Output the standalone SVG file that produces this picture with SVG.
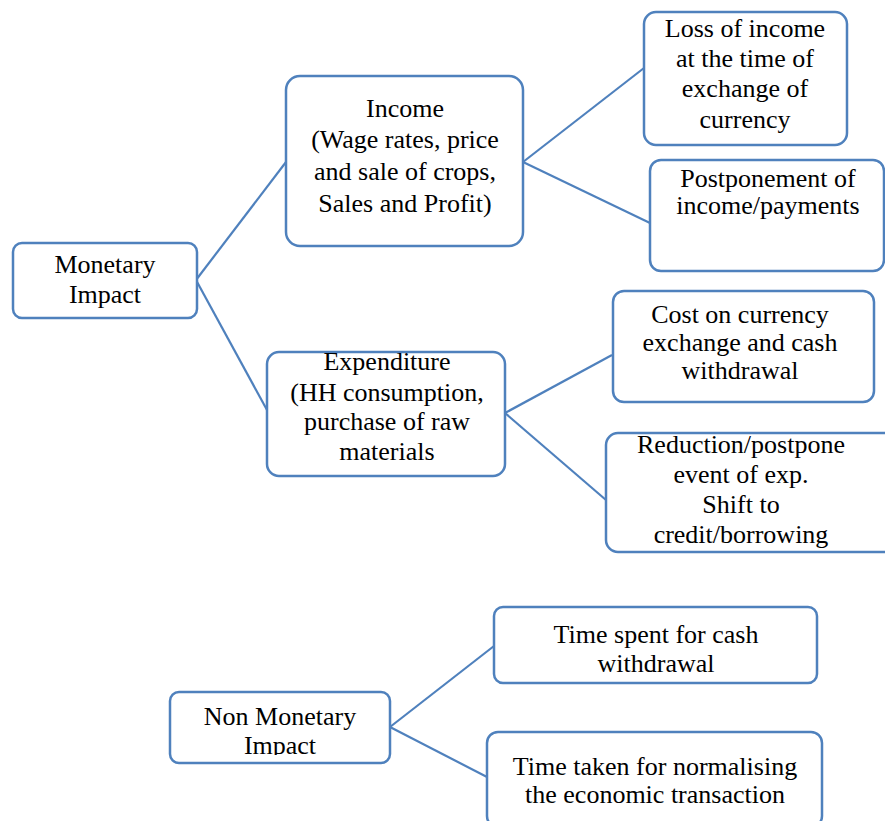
<svg xmlns="http://www.w3.org/2000/svg" width="885" height="821" viewBox="0 0 885 821" font-family="Liberation Serif, serif">
<style>
.box{fill:#fff;stroke:#4f81bd;stroke-width:2.5}
.ln{stroke:#4f81bd;stroke-width:2.2;fill:none}
.t{font-size:26px;fill:#000;text-anchor:middle}
</style>
<defs>
<clipPath id="clipNM"><rect x="160" y="680" width="240" height="75"/></clipPath>
</defs>
<rect width="885" height="821" fill="#fff"/>
<g id="connectors">
<line class="ln" x1="196" y1="280" x2="286" y2="162"/>
<line class="ln" x1="196" y1="280" x2="267" y2="410"/>
<line class="ln" x1="523" y1="162" x2="644" y2="68"/>
<line class="ln" x1="523" y1="162" x2="650" y2="223"/>
<line class="ln" x1="505" y1="413" x2="612" y2="355"/>
<line class="ln" x1="505" y1="413" x2="606" y2="500"/>
<line class="ln" x1="390" y1="727" x2="494" y2="646"/>
<line class="ln" x1="390" y1="727" x2="487" y2="777"/>
</g>
<g id="monetary" class="t">
<rect class="box" x="13" y="243" width="184" height="75" rx="9"/>
<text x="105" y="273">Monetary</text>
<text x="105" y="303">Impact</text>
</g>
<g id="income" class="t">
<rect class="box" x="286" y="76" width="237" height="170" rx="14"/>
<text x="405" y="117">Income</text>
<text x="405" y="148">(Wage rates, price</text>
<text x="405" y="180">and sale of crops,</text>
<text x="405" y="212">Sales and Profit)</text>
</g>
<g id="loss" class="t">
<rect class="box" x="644" y="12" width="203" height="133" rx="12"/>
<text x="745" y="37">Loss of income</text>
<text x="745" y="67">at the time of</text>
<text x="745" y="97">exchange of</text>
<text x="745" y="128">currency</text>
</g>
<g id="postponement" class="t">
<rect class="box" x="650" y="160" width="234" height="111" rx="11"/>
<text x="768" y="187">Postponement of</text>
<text x="768" y="214">income/payments</text>
</g>
<g id="expenditure" class="t">
<rect class="box" x="267" y="352" width="238" height="124" rx="12"/>
<text x="387" y="370">Expenditure</text>
<text x="387" y="401">(HH consumption,</text>
<text x="387" y="430">purchase of raw</text>
<text x="387" y="460">materials</text>
</g>
<g id="cost" class="t">
<rect class="box" x="613" y="291" width="261" height="111" rx="11"/>
<text x="740" y="323">Cost on currency</text>
<text x="740" y="351">exchange and cash</text>
<text x="740" y="379">withdrawal</text>
</g>
<g id="reduction" class="t">
<rect class="box" x="606" y="433" width="290" height="119" rx="12"/>
<text x="741" y="453">Reduction/postpone</text>
<text x="741" y="483">event of exp.</text>
<text x="741" y="513">Shift to</text>
<text x="741" y="543">credit/borrowing</text>
</g>
<g id="nonmonetary" class="t">
<rect class="box" x="170" y="692" width="220" height="71" rx="9"/>
<g clip-path="url(#clipNM)">
<text x="280" y="725">Non Monetary</text>
<text x="280" y="754">Impact</text>
</g>
</g>
<g id="timespent" class="t">
<rect class="box" x="494" y="607" width="323" height="76" rx="9"/>
<text x="656" y="643">Time spent for cash</text>
<text x="656" y="672">withdrawal</text>
</g>
<g id="timetaken" class="t">
<rect class="box" x="487" y="732" width="335" height="95" rx="11"/>
<text x="655" y="775">Time taken for normalising</text>
<text x="655" y="803">the economic transaction</text>
</g>
</svg>
